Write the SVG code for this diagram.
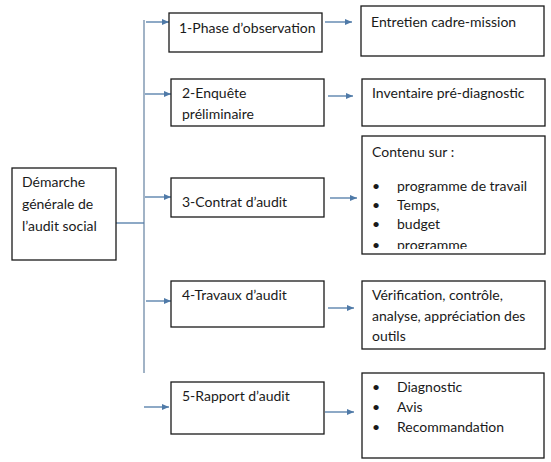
<svg xmlns="http://www.w3.org/2000/svg" width="551" height="462" viewBox="0 0 551 462">
<style>
.box{fill:#fff;stroke:#1a1a1a;stroke-width:1.3}
.t{font-family:Lato,"Open Sans",sans-serif;font-size:14px;fill:#1a1a1a}
.c{stroke:#4f7aa8;stroke-width:1.3;fill:none}
.v{stroke:#8aa0b8;stroke-width:1.6;fill:none}
</style>
<defs>
<marker id="ah" markerWidth="8" markerHeight="8" refX="7" refY="4" orient="auto" markerUnits="userSpaceOnUse">
<path d="M0,1 L7,4 L0,7 Z" fill="#4f7aa8"/>
</marker>
<clipPath id="clip3"><rect x="362" y="136" width="183" height="113"/></clipPath>
</defs>
<rect width="551" height="462" fill="#fff"/>
<g id="connectors">
<line class="v" x1="144" y1="20" x2="144" y2="373"/>
<line class="c" x1="116" y1="223" x2="144" y2="223"/>
<line class="c" x1="146" y1="22" x2="169" y2="22" marker-end="url(#ah)"/>
<line class="c" x1="145" y1="94" x2="171" y2="94" marker-end="url(#ah)"/>
<line class="c" x1="145" y1="197" x2="171" y2="197" marker-end="url(#ah)"/>
<line class="c" x1="146" y1="301" x2="171" y2="301" marker-end="url(#ah)"/>
<line class="c" x1="144" y1="407" x2="169" y2="407" marker-end="url(#ah)"/>
<line class="c" x1="325" y1="22" x2="352" y2="22" marker-end="url(#ah)"/>
<line class="c" x1="328" y1="96" x2="353" y2="96" marker-end="url(#ah)"/>
<line class="c" x1="330" y1="198" x2="357" y2="198" marker-end="url(#ah)"/>
<line class="c" x1="328" y1="308" x2="354" y2="308" marker-end="url(#ah)"/>
<line class="c" x1="325" y1="412" x2="354" y2="412" marker-end="url(#ah)"/>
</g>
<g id="n0">
<rect class="box" x="12" y="168" width="104" height="92"/>
<text class="t" x="22" y="187">Démarche</text>
<text class="t" x="22" y="209">générale de</text>
<text class="t" x="22" y="231">l’audit social</text>
</g>
<g id="n1">
<rect class="box" x="169" y="13" width="153" height="39"/>
<text class="t" x="179" y="33">1-Phase d’observation</text>
</g>
<g id="n2">
<rect class="box" x="171" y="79" width="153" height="47"/>
<text class="t" x="182" y="98">2-Enquête</text>
<text class="t" x="182" y="119">préliminaire</text>
</g>
<g id="n3">
<rect class="box" x="171" y="178" width="153" height="39"/>
<text class="t" x="182" y="207">3-Contrat d’audit</text>
</g>
<g id="n4">
<rect class="box" x="171" y="281" width="153" height="46"/>
<text class="t" x="182" y="300">4-Travaux d’audit</text>
</g>
<g id="n5">
<rect class="box" x="171" y="382" width="153" height="52"/>
<text class="t" x="182" y="401">5-Rapport d’audit</text>
</g>
<g id="r1">
<rect class="box" x="361" y="6" width="183" height="50"/>
<text class="t" x="371" y="27">Entretien cadre-mission</text>
</g>
<g id="r2">
<rect class="box" x="362" y="79" width="183" height="47"/>
<text class="t" x="372" y="98">Inventaire pré-diagnostic</text>
</g>
<g id="r3">
<rect class="box" x="362" y="136" width="183" height="118"/>
<g clip-path="url(#clip3)">
<text class="t" x="372" y="157">Contenu sur :</text>
<text class="t" x="372" y="191">•</text><text class="t" x="397" y="191">programme de travail</text>
<text class="t" x="372" y="210">•</text><text class="t" x="397" y="210">Temps,</text>
<text class="t" x="372" y="229">•</text><text class="t" x="397" y="229">budget</text>
<text class="t" x="372" y="250">•</text><text class="t" x="397" y="250">programme</text>
</g>
</g>
<g id="r4">
<rect class="box" x="362" y="281" width="183" height="68"/>
<text class="t" x="372" y="300">Vérification, contrôle,</text>
<text class="t" x="372" y="321">analyse, appréciation des</text>
<text class="t" x="372" y="341">outils</text>
</g>
<g id="r5">
<rect class="box" x="362" y="373" width="182" height="85"/>
<text class="t" x="372" y="392">•</text><text class="t" x="397" y="392">Diagnostic</text>
<text class="t" x="372" y="412">•</text><text class="t" x="397" y="412">Avis</text>
<text class="t" x="372" y="432">•</text><text class="t" x="397" y="432">Recommandation</text>
</g>
</svg>
